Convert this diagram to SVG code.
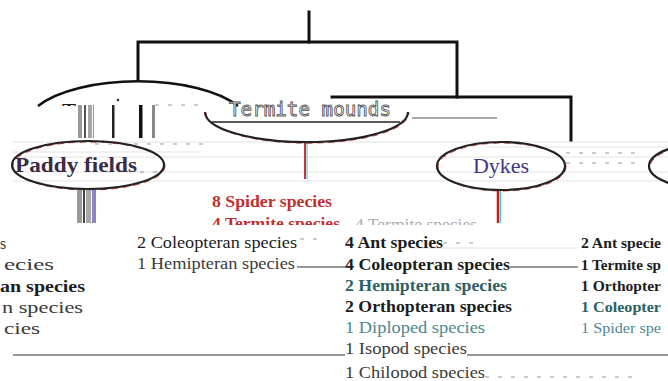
<svg xmlns="http://www.w3.org/2000/svg" width="668" height="381" viewBox="0 0 668 381">
<defs>
<style>
.ln{stroke:#111;stroke-width:3;fill:none;stroke-linecap:square}
.thin{stroke:#333;stroke-width:1.2;fill:none}
.scan{stroke:#e2e2e2;stroke-width:1;fill:none}
.dash{stroke:#999;stroke-width:1.2;stroke-dasharray:4 9;fill:none}
.ell{fill:none;stroke:#222;stroke-width:2.2}
.ellr{fill:none;stroke:#d33;stroke-width:1;stroke-dasharray:6 5}
.sf{font-family:"Liberation Serif","DejaVu Serif","Noto Serif","Times New Roman",serif}
.b{font-weight:bold}
.dk{fill:#1c1c1c}
.tl{fill:#2c6064}
.lt{fill:#4d8790}
.gr{fill:#3a3a3a}
.rd{fill:#c2302c}
</style>
<clipPath id="clipTerm"><rect x="0" y="0" width="668" height="225"/></clipPath>
<clipPath id="clipT"><rect x="0" y="95" width="668" height="11"/></clipPath>
<clipPath id="clipChil"><rect x="0" y="0" width="668" height="378"/></clipPath>
</defs>
<rect width="668" height="381" fill="#fff"/>

<g id="scan">
<line class="scan" x1="13" y1="142" x2="668" y2="142"/>
<line class="scan" x1="487" y1="147" x2="668" y2="147"/>
<line class="scan" x1="13" y1="152" x2="200" y2="152"/>
<line class="scan" x1="13" y1="157" x2="668" y2="157"/>
<line class="scan" x1="13" y1="172" x2="668" y2="172"/>
<line class="scan" x1="13" y1="181" x2="668" y2="181"/>
<line class="scan" x1="412" y1="248" x2="578" y2="248"/>
</g>

<g id="connectors">
<polyline class="ln" points="309,12 309,42"/>
<polyline class="ln" points="138,80 138,42 457,42 457,97"/>
<polyline class="ln" points="332,97 571,97 571,140"/>
<line stroke="#222" stroke-width="1.4" x1="212" y1="122" x2="400" y2="122"/>
<line stroke="#555" stroke-width="1.2" x1="412" y1="118" x2="497" y2="118"/>
<line stroke="#c33" stroke-width="2" x1="305" y1="143" x2="305" y2="179"/>
<line stroke="#3cc" stroke-width="1" x1="307" y1="143" x2="307" y2="179"/>
<line stroke="#d11" stroke-width="2.5" x1="498" y1="190" x2="498" y2="223"/>
<line stroke="#3cc" stroke-width="1" x1="500.5" y1="190" x2="500.5" y2="223"/>
<line class="thin" x1="297" y1="267" x2="345" y2="267"/>
<line class="thin" x1="510" y1="267" x2="578" y2="267"/>
<line class="thin" x1="13" y1="355" x2="345" y2="355"/>
<line class="thin" x1="467" y1="355" x2="668" y2="355"/>
<line class="dash" x1="443" y1="243" x2="482" y2="243"/>
<line class="dash" x1="300" y1="239" x2="322" y2="239"/>
<line class="dash" x1="485" y1="377" x2="640" y2="377"/>
<line class="dash" x1="95" y1="144" x2="210" y2="144"/>
<line class="dash" x1="155" y1="105" x2="200" y2="105"/>
<line class="dash" x1="566" y1="153" x2="640" y2="153"/>
<line class="dash" x1="566" y1="163" x2="640" y2="163"/>
<line class="dash" x1="140" y1="172" x2="160" y2="172"/>
</g>

<g id="node-termite-arc">
<path d="M38,106 A112 45 0 0 1 238,106" fill="none" stroke="#111" stroke-width="2.5"/>
<text class="sf b dk" x="62" y="118" font-size="21" clip-path="url(#clipT)">T</text>
<rect x="78" y="105" width="4" height="33" fill="#9a9a9a"/>
<rect x="84" y="105" width="2" height="33" fill="#555"/>
<rect x="88" y="105" width="4" height="33" fill="#a5a5a5"/>
<rect x="93" y="105" width="1" height="33" fill="#88f"/>
<rect x="112" y="105" width="2.5" height="33" fill="#222"/>
<circle cx="118" cy="100" r="1.2" fill="#222"/>
<rect x="139" y="105" width="3.5" height="33" fill="#111"/>
<rect x="152" y="105" width="3" height="33" fill="#888"/>
</g>

<g id="node-termite-mounds">
<path class="ellr" d="M206,113 A101 30 0 0 0 409,113"/>
<path class="ell" d="M205,112 A101 30 0 0 0 408,112"/>
<text x="229" y="116" font-family="'DejaVu Sans Mono', 'Liberation Mono', monospace" font-size="20" textLength="162" lengthAdjust="spacingAndGlyphs" fill="#fff" stroke="#555" stroke-width="0.9">Termite mounds</text>
</g>

<g id="node-paddy">
<ellipse class="ellr" cx="89" cy="166" rx="76" ry="24"/>
<ellipse class="ell" cx="88" cy="165" rx="76" ry="24"/>
<text class="sf b" x="15" y="172" font-size="21" fill="#3a2c46" textLength="122" lengthAdjust="spacingAndGlyphs">Paddy fields</text>
<rect x="77" y="190" width="5" height="33" fill="#9a9a9a"/>
<rect x="83" y="190" width="2" height="33" fill="#444"/>
<rect x="86" y="190" width="5" height="33" fill="#a8a8a8"/>
<rect x="92" y="190" width="4" height="33" fill="#8a84c8"/>
</g>

<g id="node-dykes">
<ellipse class="ellr" cx="502" cy="167" rx="64" ry="24"/>
<ellipse class="ell" cx="501" cy="166" rx="64" ry="24"/>
<text class="sf" x="501" y="173" text-anchor="middle" font-size="22" fill="#44348a">Dykes</text>
</g>

<g id="node-right">
<ellipse class="ellr" cx="717" cy="167" rx="67" ry="24"/>
<ellipse class="ell" cx="716" cy="166" rx="67" ry="24"/>
</g>

<g id="list-paddy" font-size="16">
<text class="sf gr" x="0" y="249">s</text>
<text class="sf gr" x="4" y="270" textLength="50" lengthAdjust="spacingAndGlyphs">ecies</text>
<text class="sf b dk" x="0" y="292" textLength="85" lengthAdjust="spacingAndGlyphs">an species</text>
<text class="sf gr" x="2" y="313" textLength="81" lengthAdjust="spacingAndGlyphs">n species</text>
<text class="sf gr" x="4" y="334" textLength="36" lengthAdjust="spacingAndGlyphs">cies</text>
</g>

<g id="list-termite" font-size="16">
<text class="sf b rd" x="212" y="207" textLength="120" lengthAdjust="spacingAndGlyphs">8 Spider species</text>
<text class="sf b rd" x="212" y="229" textLength="128" lengthAdjust="spacingAndGlyphs" clip-path="url(#clipTerm)">4 Termite species</text>
<text class="sf" x="355" y="230" fill="#aaa" textLength="122" lengthAdjust="spacingAndGlyphs" clip-path="url(#clipTerm)">4 Termite species</text>
<text class="sf dk" x="137" y="248" textLength="160" lengthAdjust="spacingAndGlyphs">2 Coleopteran species</text>
<text class="sf gr" x="137" y="269" textLength="158" lengthAdjust="spacingAndGlyphs">1 Hemipteran species</text>
</g>

<g id="list-dykes" font-size="17">
<text class="sf b dk" x="345" y="248" textLength="98" lengthAdjust="spacingAndGlyphs">4 Ant species</text>
<text class="sf b dk" x="345" y="270" textLength="165" lengthAdjust="spacingAndGlyphs">4 Coleopteran species</text>
<text class="sf b tl" x="345" y="291" textLength="162" lengthAdjust="spacingAndGlyphs">2 Hemipteran species</text>
<text class="sf b dk" x="345" y="312" textLength="167" lengthAdjust="spacingAndGlyphs">2 Orthopteran species</text>
<text class="sf lt" x="345" y="333" textLength="140" lengthAdjust="spacingAndGlyphs">1 Diploped species</text>
<text class="sf gr" x="345" y="354" textLength="122" lengthAdjust="spacingAndGlyphs">1 Isopod species</text>
<text class="sf gr" x="345" y="378" textLength="140" lengthAdjust="spacingAndGlyphs" clip-path="url(#clipChil)">1 Chilopod species</text>
</g>

<g id="list-right" font-size="15">
<text class="sf b dk" x="581" y="248" textLength="80" lengthAdjust="spacingAndGlyphs">2 Ant specie</text>
<text class="sf b dk" x="581" y="270" textLength="80" lengthAdjust="spacingAndGlyphs">1 Termite sp</text>
<text class="sf b dk" x="581" y="291" textLength="80" lengthAdjust="spacingAndGlyphs">1 Orthopter</text>
<text class="sf b tl" x="581" y="312" textLength="80" lengthAdjust="spacingAndGlyphs">1 Coleopter</text>
<text class="sf lt" x="581" y="333" textLength="80" lengthAdjust="spacingAndGlyphs">1 Spider spe</text>
</g>
</svg>
